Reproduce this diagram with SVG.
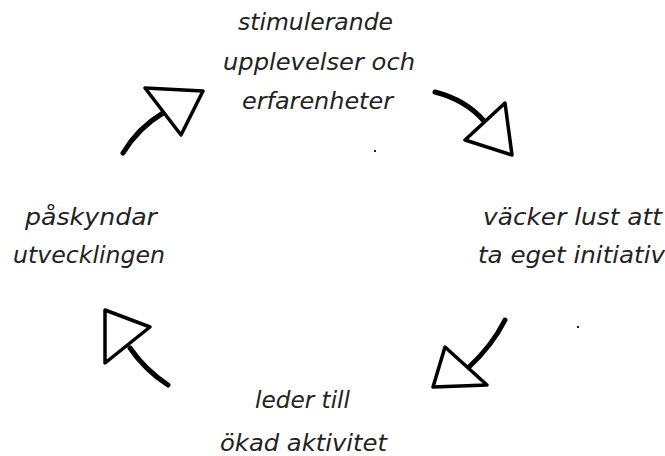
<svg xmlns="http://www.w3.org/2000/svg" width="665" height="456" viewBox="0 0 665 456">
<style>
.t{font-family:"DejaVu Sans","Liberation Sans",sans-serif;font-style:italic;font-weight:200;font-size:23px;fill:#222;}
.tail{fill:none;stroke:#000;stroke-width:5;stroke-linecap:round;}
.head{fill:#fff;stroke:#000;stroke-width:3.5;stroke-linejoin:round;}
</style>
<rect width="665" height="456" fill="#fff"/>
<g id="node-top">
<text class="t" x="238" y="30" textLength="155" lengthAdjust="spacingAndGlyphs">stimulerande</text>
<text class="t" x="223" y="70" textLength="192" lengthAdjust="spacingAndGlyphs">upplevelser och</text>
<text class="t" x="242" y="109" textLength="151" lengthAdjust="spacingAndGlyphs">erfarenheter</text>
</g>
<g id="node-right">
<text class="t" x="483" y="225" textLength="179" lengthAdjust="spacingAndGlyphs">väcker lust att</text>
<text class="t" x="478" y="263" textLength="187" lengthAdjust="spacingAndGlyphs">ta eget initiativ</text>
</g>
<g id="node-bottom">
<text class="t" x="255" y="408" textLength="95" lengthAdjust="spacingAndGlyphs">leder till</text>
<text class="t" x="220" y="451" textLength="167" lengthAdjust="spacingAndGlyphs">ökad aktivitet</text>
</g>
<g id="node-left">
<text class="t" x="25" y="225" textLength="132" lengthAdjust="spacingAndGlyphs">påskyndar</text>
<text class="t" x="13" y="263" textLength="152" lengthAdjust="spacingAndGlyphs">utvecklingen</text>
</g>
<g id="connectors">
<path class="tail" d="M123,153 Q138,128 163,113"/>
<polygon class="head" points="145,88 203,91 181,135"/>
<path class="tail" d="M435,92 Q466,100 484,121"/>
<polygon class="head" points="505,103 465,140 512,155"/>
<path class="tail" d="M505,320 Q492,346 468,368"/>
<polygon class="head" points="445,347 433,387 487,385"/>
<path class="tail" d="M130,348 Q145,370 168,385"/>
<polygon class="head" points="105,310 150,327 105,363"/>
</g>
<rect x="374" y="150" width="2" height="2" fill="#222"/>
<rect x="577" y="326" width="2" height="2" fill="#222"/>
</svg>
